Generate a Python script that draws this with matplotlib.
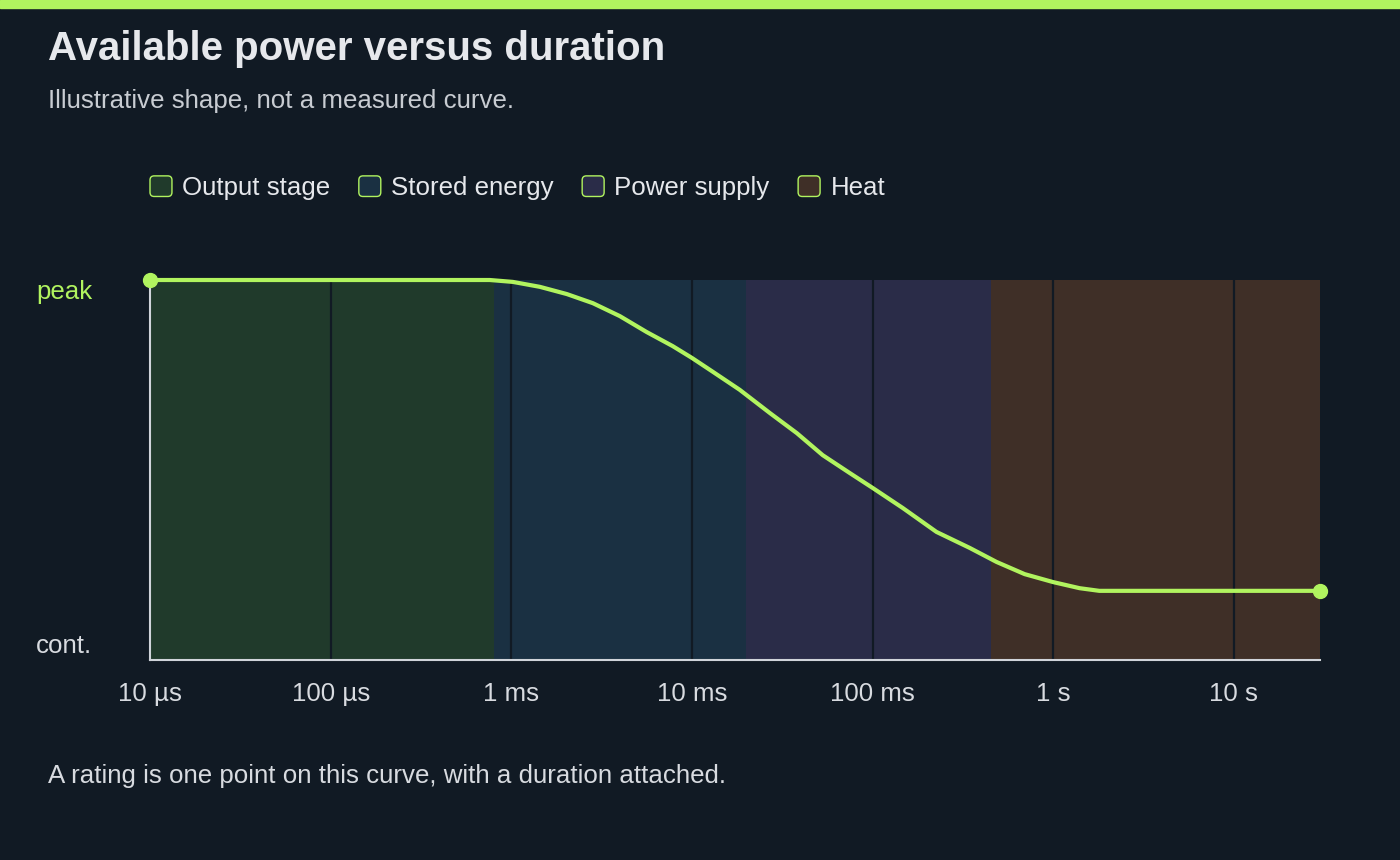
import matplotlib.pyplot as plt
import matplotlib.transforms as mtransforms
from matplotlib.patches import Patch, FancyBboxPatch
from matplotlib.legend_handler import HandlerPatch

plt.rcParams['font.family'] = ['Liberation Sans', 'DejaVu Sans']

# data
bands = ["Output stage", "Stored energy", "Power supply", "Heat"]
band_edges = [1e-5, 8e-4, 2e-2, 0.45, 30]
band_colors = ["#203a2b", "#1a3042", "#2a2c48", "#3f2f27"]

# duration (s) vs available power (0 = continuous, 1 = peak)
t = [1e-5, 7.6e-4, 1.02e-3, 1.44e-3, 2.03e-3, 2.83e-3, 3.99e-3, 5.62e-3, 7.83e-3,
     1e-2, 1.31e-2, 1.84e-2, 2.70e-2, 3.81e-2, 5.30e-2, 7.48e-2, 0.1, 0.147,
     0.226, 0.345, 0.486, 0.695, 1.0, 1.4, 1.8, 30]
p = [1.0, 1.0, 0.995, 0.982, 0.963, 0.939, 0.905, 0.863, 0.826,
     0.795, 0.758, 0.711, 0.650, 0.597, 0.539, 0.492, 0.453, 0.400,
     0.337, 0.295, 0.258, 0.226, 0.205, 0.189, 0.182, 0.182]

xticks = [1e-5, 1e-4, 1e-3, 1e-2, 1e-1, 1, 10]
xlabels = ["10 µs", "100 µs", "1 ms", "10 ms", "100 ms", "1 s", "10 s"]

bg = "#111a24"
lime = "#b1f45f"
txt = "#e6e8ec"
fs = 18.6

fig = plt.figure(figsize=(14, 8.6), dpi=100, facecolor=bg)
ax = fig.add_axes([150/1400, 200/860, 1170/1400, 380/860])
ax.set_facecolor(bg)

# top accent bar
fig.patches.append(plt.Rectangle((0, 1 - 8/860), 1, 8/860, transform=fig.transFigure,
                                 color=lime, zorder=0))

for i in range(len(bands)):
    ax.axvspan(band_edges[i], band_edges[i+1], color=band_colors[i], lw=0, zorder=1)

for xt in xticks[1:]:
    ax.axvline(xt, color="#111a24", lw=1.6, zorder=2)

ax.plot(t, p, color=lime, lw=3, zorder=6, solid_capstyle='round', clip_on=False)
ax.plot([t[0], t[-1]], [p[0], p[-1]], 'o', color=lime, ms=10, zorder=7, clip_on=False)

ax.set_xscale('log')
ax.set_xlim(band_edges[0], band_edges[-1])
ax.set_ylim(0, 1)
ax.set_xticks(xticks)
ax.set_xticklabels(xlabels)
ax.minorticks_off()
ax.tick_params(axis='x', length=0, pad=16, labelsize=fs, labelcolor="#d8dbe0")
ax.set_yticks([])
for s in ["top", "right"]:
    ax.spines[s].set_visible(False)
for s in ["left", "bottom"]:
    ax.spines[s].set_color("#d0d4da")
    ax.spines[s].set_linewidth(1.5)
    ax.spines[s].set_zorder(5)

trans = mtransforms.blended_transform_factory(fig.transFigure, ax.transData)
ax.text(36/1400, 1, "peak", transform=trans, color=lime, fontsize=fs, ha='left', va='top')
ax.text(36/1400, 0.005, "cont.", transform=trans, color="#d8dbe0", fontsize=fs, ha='left', va='bottom')


def rounded_box(legend, orig_handle, xdescent, ydescent, width, height, fontsize):
    return FancyBboxPatch((-xdescent, -ydescent), width, height,
                          boxstyle="round,pad=0,rounding_size=3")


handles = [Patch(facecolor=c, edgecolor=lime, linewidth=1, label=b) for b, c in zip(bands, band_colors)]
leg = fig.legend(handles=handles, loc='center left', bbox_to_anchor=(150/1400, 1 - 188/860),
                 ncol=4, frameon=False, fontsize=fs, handlelength=0.85, handleheight=0.85,
                 handletextpad=0.4, columnspacing=1.1, borderpad=0, borderaxespad=0,
                 labelcolor=txt,
                 handler_map={Patch: HandlerPatch(patch_func=rounded_box)})

fig.text(48/1400, 1 - 49/860, "Available power versus duration", fontsize=29, fontweight='bold',
         color=txt, va='center', ha='left')
fig.text(48/1400, 1 - 101/860, "Illustrative shape, not a measured curve.", fontsize=fs,
         color="#c8ccd2", va='center', ha='left')
fig.text(48/1400, 1 - 776/860, "A rating is one point on this curve, with a duration attached.",
         fontsize=fs, color="#d8dbe0", va='center', ha='left')

fig.savefig("out.png", dpi=100, facecolor=bg)
